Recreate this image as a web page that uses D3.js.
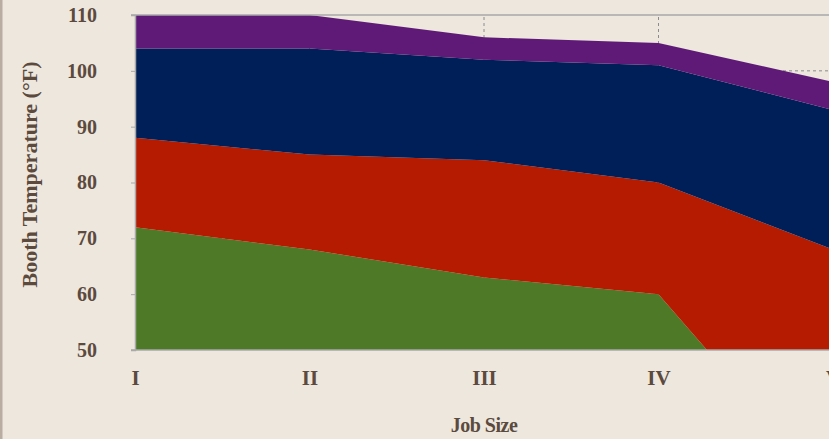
<!DOCTYPE html>
<html>
<head>
<meta charset="utf-8">
<script src="https://d3js.org/d3.v7.min.js"></script>
<style>
  body { margin: 0; background: #ede7dd; }
  svg { display: block; }
  text { font-family: "Liberation Serif", "DejaVu Serif", serif; font-weight: bold; fill: #5b4a3d; }
</style>
</head>
<body>
<div class="vis"></div>
<script>
// job sizes on the x axis
var jobSizes = ["I", "II", "III", "IV", "V"];
// stacked layers (bottom to top), each value is the thickness of the band in °F
var greenBand  = [72, 68, 63, 60, 24];
var redBand    = [16, 17, 21, 20, 44];
var navyBand   = [16, 19, 18, 21, 25];
var purpleBand = [6, 6, 4, 4, 5];
var yTicks = [50, 60, 70, 80, 90, 100, 110];
var layerNames = ["green", "red", "navy", "purple"];
var layerColors = ["#4e7a28", "#b51b00", "#001f59", "#5f1a78"];

var width = 829, height = 439;
var margin = { top: 15, right: -4, bottom: 89, left: 135 };

var rows = jobSizes.map(function (s, i) {
    return { size: s, green: greenBand[i], red: redBand[i], navy: navyBand[i], purple: purpleBand[i] };
});
var series = d3.stack().keys(layerNames)(rows);

var x = d3.scalePoint()
    .domain(jobSizes)
    .range([margin.left, width - margin.right]);

var y = d3.scaleLinear()
    .domain([50, 110])
    .range([height - margin.bottom, margin.top]);

var svg = d3.select('.vis')
    .append("svg")
    .attr("width", width)
    .attr("height", height);

// left edge strip
svg.append("rect")
    .attr("x", 0).attr("y", 0)
    .attr("width", 2.5).attr("height", height)
    .attr("fill", "#b9ada2");

svg.append("clipPath").attr("id", "plot")
    .append("rect")
    .attr("x", margin.left).attr("y", margin.top)
    .attr("width", width - margin.right - margin.left)
    .attr("height", y(50) - y(110));

// dashed grid
var grid = svg.append("g")
    .attr("stroke", "#8c8c8c")
    .attr("stroke-width", 1)
    .attr("stroke-dasharray", "3,3");

grid.selectAll(".gx")
    .data(jobSizes.slice(1))
    .join("line")
    .attr("x1", d => x(d)).attr("x2", d => x(d))
    .attr("y1", y(50)).attr("y2", y(110));

grid.selectAll(".gy")
    .data(yTicks.slice(1, -1))
    .join("line")
    .attr("x1", margin.left).attr("x2", width)
    .attr("y1", d => y(d)).attr("y2", d => y(d));

var area = d3.area()
    .x((d, i) => x(jobSizes[i]))
    .y0(d => y(d[0]))
    .y1(d => y(d[1]));

svg.append("g")
    .attr("clip-path", "url(#plot)")
    .selectAll("path")
    .data(series)
    .join("path")
    .attr("fill", (d, i) => layerColors[i])
    .attr("d", area);

// frame lines at 110 and 50
svg.append("g")
    .attr("stroke", "#a9a9a9")
    .attr("stroke-width", 1.5)
    .selectAll("line")
    .data([110, 50])
    .join("line")
    .attr("x1", margin.left - 4).attr("x2", width)
    .attr("y1", d => y(d)).attr("y2", d => y(d));

var yAxis = svg.append("g")
    .attr("transform", `translate(${margin.left},0)`)
    .call(d3.axisLeft(y).tickValues(yTicks).tickSize(4).tickPadding(34));
yAxis.select(".domain").attr("stroke", "#a9a9a9").attr("stroke-width", 1.5);
yAxis.selectAll(".tick line").attr("stroke", "#a9a9a9");
yAxis.selectAll(".tick text")
    .attr("font-size", 20)
    .attr("dy", "0.32em")
    .style("fill", "#5b4a3d");

var xAxis = svg.append("g")
    .attr("transform", `translate(0,${y(50)})`)
    .call(d3.axisBottom(x).tickSize(0).tickPadding(20));
xAxis.select(".domain").remove();
xAxis.selectAll(".tick text")
    .attr("font-size", 21)
    .style("fill", "#5b4a3d");

svg.append("text")
    .attr("x", x("III"))
    .attr("y", 432)
    .attr("text-anchor", "middle")
    .attr("font-size", 20)
    .style("letter-spacing", "-0.5px")
    .text("Job Size");

svg.append("text")
    .attr("transform", `translate(37,${(y(50) + y(110)) / 2 - 8}) rotate(-90)`)
    .attr("text-anchor", "middle")
    .attr("font-size", 22)
    .text("Booth Temperature (°F)");
</script>
</body>
</html>
